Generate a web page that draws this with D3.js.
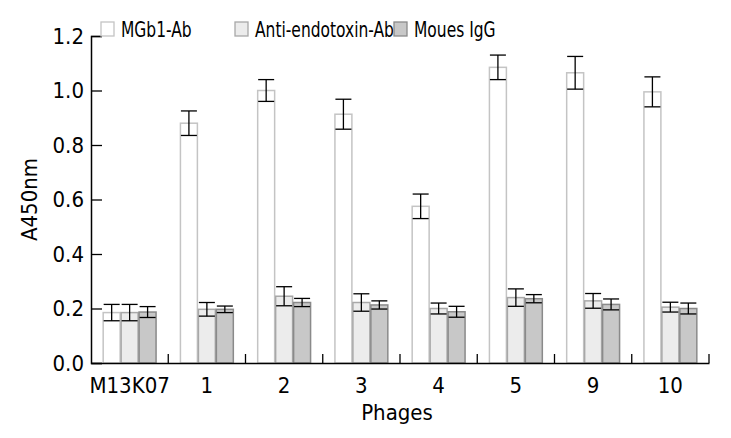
<!DOCTYPE html>
<html>
<head>
<meta charset="utf-8">
<script src="https://cdn.jsdelivr.net/npm/d3@7"></script>
<style>
  body { margin: 0; background: #fff; }
  text { font-family: "DejaVu Sans Condensed", "DejaVu Sans", sans-serif; font-stretch: condensed; fill: #000; }
</style>
</head>
<body>
<div id="chart"></div>
<script>
// phage groups on the x axis
const categories = ["M13K07", "1", "2", "3", "4", "5", "9", "10"];
const seriesNames = ["MGb1-Ab", "Anti-endotoxin-Ab", "Moues IgG"];

// A450nm means and error half-widths
const mgb1 = [0.185, 0.88, 1.0, 0.913, 0.575, 1.085, 1.065, 0.995];
const mgb1Err = [0.03, 0.045, 0.04, 0.055, 0.045, 0.045, 0.06, 0.055];
const antiEndo = [0.185, 0.197, 0.245, 0.222, 0.2, 0.24, 0.228, 0.205];
const antiEndoErr = [0.03, 0.025, 0.035, 0.032, 0.02, 0.032, 0.027, 0.018];
const igg = [0.187, 0.197, 0.222, 0.213, 0.188, 0.236, 0.215, 0.2];
const iggErr = [0.02, 0.012, 0.015, 0.015, 0.02, 0.015, 0.02, 0.02];

const yTicks = [0, 0.2, 0.4, 0.6, 0.8, 1.0, 1.2];

const fills = ["#ffffff", "#ececec", "#c8c8c8"];
const strokes = ["#c4c4c4", "#a8a8a8", "#8a8a8a"];

const width = 731, height = 438;
const margin = {top: 36, right: 22, bottom: 75, left: 91};

const svg = d3.select("#chart").append("svg")
    .attr("width", width)
    .attr("height", height);

const x0 = d3.scaleBand()
    .domain(categories)
    .range([margin.left, width - margin.right])
    .padding(0);

const x1 = d3.scaleBand()
    .domain(seriesNames)
    .range([0, x0.bandwidth()])
    .paddingInner(0)
    .paddingOuter(0.65);

const y = d3.scaleLinear()
    .domain([0, 1.2])
    .range([height - margin.bottom, margin.top]);

// build rows from the arrays
const values = [mgb1, antiEndo, igg];
const errs = [mgb1Err, antiEndoErr, iggErr];
let rows = [];
for (let i = 0; i < categories.length; i++) {
    for (let s = 0; s < seriesNames.length; s++) {
        rows.push({cat: categories[i], s: s, name: seriesNames[s], v: values[s][i], e: errs[s][i]});
    }
}

// bars
svg.append("g").selectAll("rect").data(rows).enter().append("rect")
    .attr("x", d => x0(d.cat) + x1(d.name) + 0.5)
    .attr("y", d => y(d.v))
    .attr("width", x1.bandwidth() - 1)
    .attr("height", d => y(0) - y(d.v))
    .attr("fill", d => fills[d.s])
    .attr("stroke", d => strokes[d.s])
    .attr("stroke-width", 1.5);

// error bars
const capW = 16;
const eb = svg.append("g").attr("stroke", "#000").attr("stroke-width", 1.3);
rows.forEach(function (d) {
    let cx = x0(d.cat) + x1(d.name) + x1.bandwidth() / 2;
    eb.append("line")
        .attr("x1", cx).attr("x2", cx)
        .attr("y1", y(d.v + d.e)).attr("y2", y(d.v - d.e));
    eb.append("line")
        .attr("x1", cx - capW / 2).attr("x2", cx + capW / 2)
        .attr("y1", y(d.v + d.e)).attr("y2", y(d.v + d.e));
    eb.append("line")
        .attr("x1", cx - capW / 2).attr("x2", cx + capW / 2)
        .attr("y1", y(d.v - d.e)).attr("y2", y(d.v - d.e));
});

// y axis, ticks pointing inward
const yAxis = svg.append("g")
    .attr("transform", "translate(" + margin.left + ",0)")
    .call(d3.axisLeft(y).tickValues(yTicks).tickFormat(d3.format(".1f")).tickSize(-11).tickPadding(18));
yAxis.select(".domain").attr("stroke", "#000").attr("stroke-width", 1.5);
yAxis.selectAll(".tick line").attr("stroke", "#000").attr("stroke-width", 1.3);
yAxis.selectAll("text").attr("font-size", 22).attr("font-family", null).attr("dx", 11);

// x axis: line plus small upward ticks at group boundaries
const xAxis = svg.append("g")
    .attr("transform", "translate(0," + y(0) + ")")
    .call(d3.axisBottom(x0).tickSize(0).tickPadding(14));
xAxis.select(".domain").attr("stroke", "#000").attr("stroke-width", 1.5);
xAxis.selectAll("text").attr("font-size", 22).attr("font-family", null);

const bounds = categories.map(c => x0(c)).concat([x0.range()[1]]);
svg.append("g").selectAll("line").data(bounds.slice(1)).enter().append("line")
    .attr("x1", d => d).attr("x2", d => d)
    .attr("y1", y(0)).attr("y2", y(0) - 9)
    .attr("stroke", "#000").attr("stroke-width", 1.3);

// axis titles
svg.append("text")
    .attr("x", (margin.left + width - margin.right) / 2 - 3)
    .attr("y", 420)
    .attr("text-anchor", "middle")
    .attr("font-size", 22)
    .text("Phages");

svg.append("text")
    .attr("transform", "translate(37," + ((margin.top + height - margin.bottom) / 2) + ") rotate(-90)")
    .attr("text-anchor", "middle")
    .attr("font-size", 22)
    .text("A450nm");

// legend (text squeezed a bit to fit like the original)
const legendX = [101, 235, 394];
const legend = svg.append("g").selectAll("g").data(seriesNames).enter().append("g")
    .attr("transform", (d, i) => "translate(" + legendX[i] + ",22)");
legend.append("rect")
    .attr("width", 13).attr("height", 14)
    .attr("fill", (d, i) => fills[i])
    .attr("stroke", (d, i) => strokes[i])
    .attr("stroke-width", 1.3);
legend.append("text")
    .attr("transform", "translate(20,15) scale(0.82,1)")
    .attr("font-size", 21)
    .text(d => d);
</script>
</body>
</html>
